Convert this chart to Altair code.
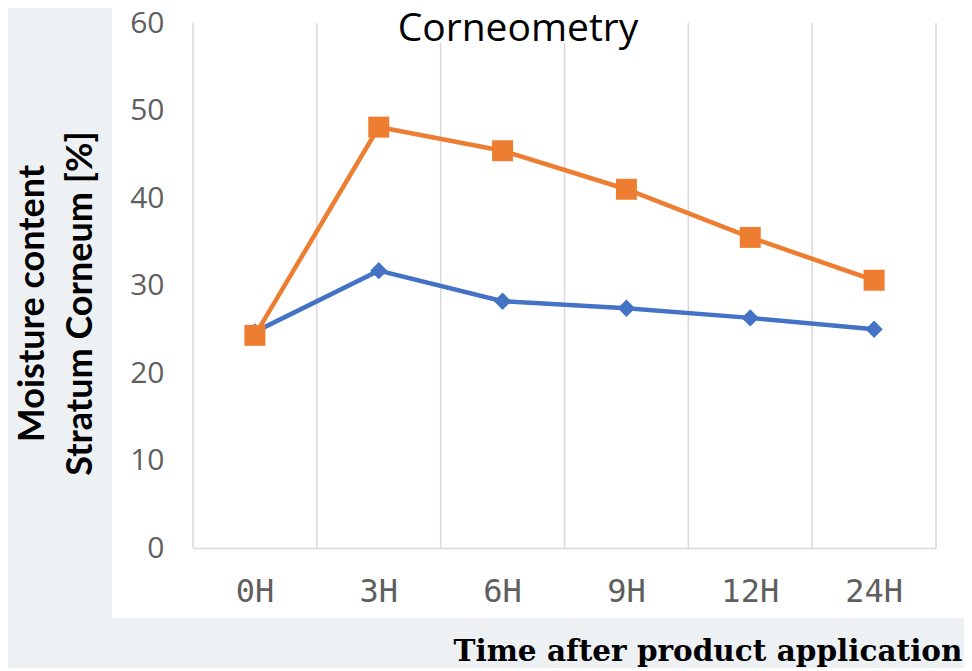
import altair as alt
import pandas as pd

categories = ["0H", "3H", "6H", "9H", "12H", "24H"]
series_a = [24.3, 48.1, 45.4, 41.0, 35.5, 30.6]   # orange, squares
series_b = [24.7, 31.7, 28.2, 27.4, 26.3, 25.0]   # blue, diamonds
y_ticks = [0, 10, 20, 30, 40, 50, 60]
chart_title = ["Corneometry"]

df = pd.DataFrame({
    "time": categories * 2,
    "value": series_a + series_b,
    "series": ["A"] * len(categories) + ["B"] * len(categories),
})
dfa = df[df.series == "A"]
dfb = df[df.series == "B"]
dft = pd.DataFrame({"t": chart_title})

W, H = 743, 525

xscale = alt.Scale(type="band", domain=categories, paddingInner=0, paddingOuter=0)
yscale = alt.Scale(domain=[0, 60])

xaxis = alt.Axis(
    title="Time after product application",
    titleFont="DejaVu Serif", titleFontSize=29.5, titleFontWeight="bold",
    titleColor="#000000", titleAnchor="end", titleAlign="right",
    titleBaseline="alphabetic", titleX=769, titleY=112,
    labelFont="DejaVu Sans Mono", labelFontSize=32, labelColor="#5f5f5f",
    labelPadding=28, labelAngle=0,
    ticks=False, domain=True, domainColor="#d9d9d9", domainWidth=1.5,
    grid=False, zindex=1,
)
yaxis = alt.Axis(
    title=["Moisture content", "Stratum Corneum [%]"],
    titleFont="Lato", titleFontSize=36, titleFontWeight="bold",
    titleColor="#000000", titleAngle=-90, titleBaseline="top",
    titleAlign="center", titleX=-178, titleY=280, titleLineHeight=48,
    values=y_ticks, labelFont="Open Sans", labelFontSize=30,
    labelColor="#5f5f5f", labelPadding=29,
    ticks=False, domain=False, grid=False, zindex=1,
)

panel = alt.Chart(dft).mark_rect(color="white").encode(
    x=alt.value(-81), x2=alt.value(774), y=alt.value(-23), y2=alt.value(595)
)
grid = alt.Chart(dfa).mark_rule(color="#d9d9d9", strokeWidth=1.5).encode(
    x=alt.X("time:N", scale=xscale, sort=categories, bandPosition=0, axis=xaxis),
    y=alt.value(0), y2=alt.value(H),
)
right_edge = alt.Chart(dft).mark_rule(color="#d9d9d9", strokeWidth=1.5).encode(
    x=alt.value(W), y=alt.value(0), y2=alt.value(H)
)
title_box = alt.Chart(dft).mark_rect(color="white").encode(
    x=alt.value(185), x2=alt.value(465), y=alt.value(-23), y2=alt.value(20)
)
title_text = alt.Chart(dft).mark_text(
    font="Open Sans", fontSize=39, color="#000000", align="center", baseline="alphabetic"
).encode(text="t:N", x=alt.value(325), y=alt.value(18))

base_x = alt.X("time:N", scale=xscale, axis=xaxis, sort=categories)
base_y = alt.Y("value:Q", scale=yscale, axis=yaxis)

line_a = alt.Chart(dfa).mark_line(color="#ED7D31", strokeWidth=4.5).encode(x=base_x, y=base_y)
pts_a = alt.Chart(dfa).mark_point(shape="square", filled=True, opacity=1,
                                  color="#ED7D31", size=440).encode(x=base_x, y=base_y)
line_b = alt.Chart(dfb).mark_line(color="#4472C4", strokeWidth=4.5).encode(x=base_x, y=base_y)
pts_b = alt.Chart(dfb).mark_point(shape="diamond", filled=True, opacity=1,
                                  color="#4472C4", size=300).encode(x=base_x, y=base_y)

chart = alt.layer(panel, grid, right_edge, title_box, title_text,
                  line_b, pts_b, line_a, pts_a).properties(
    width=W, height=H,
    background="#eef1f4",
    padding={"left": 185, "top": 15, "right": 28, "bottom": 120},
    autosize=alt.AutoSizeParams(type="none"),
).configure_view(stroke=None)

chart.save("out.html", embed_options={"renderer": "svg", "actions": False})
